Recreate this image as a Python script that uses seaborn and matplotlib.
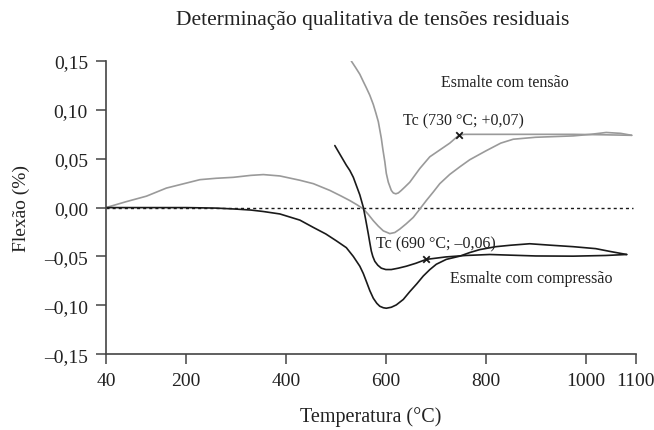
import numpy as np
import pandas as pd
import seaborn as sns
import matplotlib.pyplot as plt
from matplotlib.ticker import FuncFormatter

# values
gray_heat_t = [40, 80, 121, 161, 200, 228, 260, 295, 330, 355, 388, 428, 455, 488,
               510, 528, 542, 555, 565, 575, 585, 595, 608, 618, 628, 641, 655, 668,
               681, 695, 708, 728, 748, 768, 800, 830, 855, 900, 975, 1010, 1041, 1070, 1092]
gray_heat_f = [0.0, 0.006, 0.0117, 0.020, 0.025, 0.0286, 0.030, 0.031, 0.033, 0.0338,
               0.0324, 0.028, 0.0245, 0.0176, 0.012, 0.0072, 0.003, -0.0013, -0.007,
               -0.0134, -0.019, -0.0238, -0.0266, -0.0255, -0.022, -0.0165, -0.010,
               -0.0015, 0.0072, 0.016, 0.0245, 0.034, 0.0417, 0.049, 0.058, 0.066,
               0.070, 0.072, 0.0734, 0.075, 0.0769, 0.076, 0.074]

gray_cool_t = [1092, 1040, 975, 900, 820, 758, 746, 728, 708, 688, 668, 648, 638, 631,
               625, 620, 615, 611, 605, 601, 598, 594, 591, 585, 580, 575, 568, 561,
               555, 548, 540, 531]
gray_cool_f = [0.074, 0.0745, 0.075, 0.075, 0.075, 0.075, 0.074, 0.066, 0.059, 0.052,
               0.040, 0.026, 0.021, 0.0176, 0.015, 0.0141, 0.015, 0.0176, 0.026, 0.035,
               0.047, 0.060, 0.071, 0.088, 0.097, 0.1055, 0.115, 0.1227, 0.129, 0.1365,
               0.143, 0.150]

black_heat_t = [40, 100, 200, 260, 300, 330, 355, 388, 428, 455, 480, 501, 521, 535,
                548, 555, 561, 568, 575, 582, 588, 595, 601, 611, 621, 635, 648, 662,
                675, 688, 701, 721, 748, 768, 788, 820, 850, 888, 930, 975, 1020, 1050, 1082]
black_heat_f = [0.0, 0.0, 0.0, -0.0005, -0.0015, -0.0025, -0.004, -0.0065, -0.0128,
                -0.0203, -0.027, -0.034, -0.041, -0.050, -0.060, -0.0675, -0.0755,
                -0.085, -0.0928, -0.098, -0.101, -0.1025, -0.103, -0.102, -0.0996,
                -0.094, -0.086, -0.078, -0.070, -0.0635, -0.058, -0.053, -0.0497,
                -0.046, -0.043, -0.040, -0.0385, -0.037, -0.0385, -0.040, -0.042,
                -0.045, -0.048]

black_cool_t = [1082, 1040, 975, 900, 808, 760, 720, 681, 660, 641, 625, 611, 600, 591,
                584, 578, 574, 571, 568, 565, 560, 555, 548, 541, 535, 528, 521, 510, 498]
black_cool_f = [-0.048, -0.049, -0.0497, -0.0495, -0.048, -0.049, -0.0505, -0.053,
                -0.057, -0.060, -0.062, -0.0634, -0.0634, -0.062, -0.059, -0.055,
                -0.050, -0.0445, -0.036, -0.027, -0.013, 0.0003, 0.013, 0.0227, 0.031,
                0.038, 0.0434, 0.053, 0.0635]

tc_t = [746, 681]
tc_f = [0.074, -0.053]

x_ticks = [40, 200, 400, 600, 800, 1000, 1100]
y_ticks = [-0.15, -0.10, -0.05, 0.0, 0.05, 0.10, 0.15]

GRAY = '#9a9a9a'
BLACK = '#1a1a1a'


def comma_fmt(v, pos):
    s = f"{v:.2f}".replace('.', ',')
    if s.startswith('-'):
        s = '\u2013' + s[1:]
    if s == '\u20130,00':
        s = '0,00'
    return s


sns.set_theme(style='ticks')
plt.rcParams['font.family'] = ['Liberation Serif', 'DejaVu Serif']

fig, ax = plt.subplots(figsize=(6.54, 4.31), dpi=100)
fig.subplots_adjust(left=0.162, right=0.972, bottom=0.176, top=0.856)

ax.axhline(0, xmin=0, xmax=0.995, color=BLACK, lw=1.0, ls=(0, (2.2, 2.2)), zorder=1)

for t, f, c in [(gray_heat_t, gray_heat_f, GRAY), (gray_cool_t, gray_cool_f, GRAY),
                (black_heat_t, black_heat_f, BLACK), (black_cool_t, black_cool_f, BLACK)]:
    sns.lineplot(x=t, y=f, sort=False, estimator=None, color=c, lw=1.2, ax=ax)

sns.scatterplot(x=tc_t, y=tc_f, marker='x', s=22, color=BLACK, linewidth=1.3, ax=ax, zorder=5)

ax.set_xlim(40, 1100)
ax.set_ylim(-0.15, 0.15)
ax.set_xticks(x_ticks)
ax.set_yticks(y_ticks)
ax.yaxis.set_major_formatter(FuncFormatter(comma_fmt))
ax.tick_params(labelsize=14, length=7, width=1.1, color='#444444', labelcolor='#222222', pad=6)
for side in ['left', 'bottom']:
    ax.spines[side].set_color('#444444')
    ax.spines[side].set_linewidth(1.2)
sns.despine(ax=ax)

ax.set_xlabel('Temperatura (°C)', fontsize=14.5, color='#222222', labelpad=12)
ax.set_ylabel('Flexão (%)', fontsize=14, color='#222222', labelpad=10)
fig.suptitle('Determinação qualitativa de tensões residuais', x=0.570, y=0.975,
             fontsize=15.5, color='#222222')

ax.text(839, 0.129, 'Esmalte com tensão', ha='center', va='center', fontsize=11.5, color='#222222')
ax.text(756, 0.089, 'Tc (730 °C; +0,07)', ha='center', va='center', fontsize=11.5, color='#222222')
ax.text(700, -0.037, 'Tc (690 °C; \u20130,06)', ha='center', va='center', fontsize=11.5, color='#222222')
ax.text(891, -0.072, 'Esmalte com compressão', ha='center', va='center', fontsize=11.5, color='#222222')

fig.savefig('out.png', dpi=100)
